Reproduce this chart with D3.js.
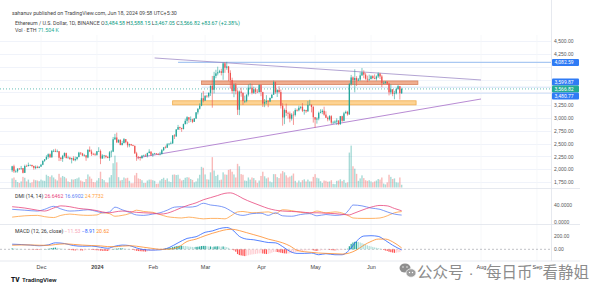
<!DOCTYPE html>
<html><head><meta charset="utf-8">
<script src="https://cdn.jsdelivr.net/npm/d3@7"></script>
<style>
html,body{margin:0;padding:0;background:#fff;}
svg{display:block;font-family:Roboto,"Liberation Sans",sans-serif;}
</style></head><body>
<svg id="chart" width="600" height="294"></svg>
<script>
// ---------------- DATA ----------------
const startDate = "2023-11-15";
const firstOpen = 1980;
const closes = [
2058,1961,1962,2013,2012,2022,1931,2064,2063,2082,2083,2064,2028,2048,2027,2051,
2088,2165,2194,2242,2293,2232,2358,2359,2341,2352,2225,2202,2260,2315,2220,2228,2196,2216,2177,2200,2240,2325,2309,2267,2273,2230,2379,2346,2300,2292,2281,
2352,2355,2209,2268,2268,2240,2221,2331,2344,2585,2620,2525,2576,2472,2511,2587,2529,2468,2490,2470,2455,2310,2241,2235,2218,2265,2268,2258,2317,2344,2284,
2304,2309,2297,2291,2297,2373,2427,2420,2487,2499,2505,2660,2642,2775,2822,2804,2785,2880,2945,3015,2970,2972,2925,2990,3110,3180,3240,3385,3340,
3432,3422,3490,3630,3550,3820,3870,3890,3910,3880,4065,3980,4005,3880,3740,3525,3645,3520,3160,3515,3490,3330,3330,3455,3590,3590,3490,3560,3510,3505,3645,
3505,3280,3310,3330,3320,3390,3455,3700,3500,3545,3505,3240,3010,3155,3100,3085,2985,3065,3060,3155,3150,3200,3220,3140,3155,3130,3255,3260,3215,3015,
2970,2990,3100,3115,3140,3065,3005,2975,3035,2910,2910,2930,2950,2880,3035,2945,3090,3120,3070,3660,3790,3740,3780,3730,3750,3830,3890,3845,3765,3750,3760,
3815,3780,3765,3810,3865,3810,3680,3680,3705,3670,3500,3560,3470,3480,3565,3620,3483,3566.82];
const highs = [
2068,2090,1990,2020,2025,2065,2025,2090,2090,2130,2095,2090,2070,2075,2070,2055,
2105,2170,2200,2275,2310,2310,2375,2390,2400,2385,2355,2240,2280,2330,2325,2265,2245,2225,2255,2250,2245,2340,2330,2320,2300,2275,2390,2445,2385,2320,2320,
2355,2430,2385,2295,2280,2270,2260,2355,2370,2630,2690,2715,2580,2580,2555,2610,2590,2545,2500,2495,2480,2465,2340,2260,2245,2275,2285,2300,2325,2390,2350,
2310,2320,2315,2315,2340,2395,2435,2460,2510,2510,2540,2665,2685,2785,2865,2830,2810,2890,2985,3035,3015,3030,2985,3000,3115,3190,3285,3490,3525,
3445,3450,3500,3630,3820,3900,3940,4000,3940,3960,4085,4090,4095,4015,3930,3785,3675,3680,3550,3535,3590,3500,3435,3460,3655,3675,3665,3610,3590,3560,3655,
3650,3510,3370,3445,3345,3400,3460,3730,3710,3560,3620,3555,3290,3185,3280,3125,3125,3095,3130,3190,3180,3240,3225,3290,3170,3160,3330,3355,3260,3235,
3020,3015,3125,3170,3170,3220,3130,3030,3055,3055,2945,2955,2995,2955,3040,3045,3120,3145,3140,3685,3840,3810,3950,3815,3780,3890,3975,3930,3880,3825,3845,
3835,3835,3850,3830,3890,3880,3840,3715,3720,3715,3680,3655,3560,3530,3590,3645,3625,3588.15];
const lows = [
1945,1930,1930,1935,1990,1990,1920,1930,2050,2055,2075,2040,1990,2000,2020,2020,
2050,2080,2145,2180,2205,2225,2230,2335,2335,2330,2160,2165,2145,2230,2210,2210,2190,2115,2165,2155,2175,2230,2280,2255,2245,2165,2215,2335,2260,2275,2260,
2265,2345,2100,2205,2210,2215,2215,2165,2235,2335,2570,2510,2510,2470,2465,2505,2505,2425,2430,2455,2450,2300,2165,2195,2170,2205,2255,2245,2230,2310,2260,
2240,2290,2285,2275,2270,2290,2355,2405,2420,2465,2485,2495,2590,2630,2765,2765,2730,2775,2875,2880,2905,2920,2900,2925,2980,3070,3165,3230,3305,
3330,3395,3395,3430,3200,3480,3775,3830,3875,3830,3745,3880,3940,3720,3570,3475,3405,3460,3060,3055,3415,3255,3290,3305,3420,3560,3460,3470,3465,3490,3495,
3425,3215,3210,3270,3210,3310,3380,3450,3470,3410,3480,3185,2850,2880,3040,2990,2915,2950,2865,3030,3125,3130,3170,3115,3065,3100,3120,3250,3110,2910,
2810,2890,2955,3090,3075,3045,3000,2935,2950,2880,2885,2895,2865,2860,2865,2925,2935,3090,3045,3060,3630,3655,3500,3625,3725,3725,3820,3775,3745,3700,3725,
3750,3755,3755,3730,3780,3760,3600,3670,3670,3645,3440,3460,3425,3365,3460,3545,3360,3467.05];
const volumes = [ // thousand ETH
300,330,250,180,150,200,350,320,200,260,150,170,260,240,230,210,
260,230,220,420,380,350,400,330,270,230,450,330,380,350,300,200,180,270,260,280,300,330,230,200,180,280,430,360,290,180,170,
230,310,520,280,240,170,160,330,410,800,1050,830,340,230,250,330,300,320,220,140,140,400,480,300,280,240,150,150,230,260,260,
240,220,120,130,230,280,320,250,300,200,180,420,430,410,420,290,230,250,320,340,330,280,250,170,200,300,420,680,650,
430,270,260,500,1000,560,380,420,240,260,500,430,420,580,600,520,430,330,780,700,440,420,230,220,330,260,330,310,240,150,230,
380,520,370,300,330,200,170,440,440,340,310,460,540,500,400,330,360,390,460,220,160,230,170,240,270,200,260,200,200,350,
440,320,300,210,150,230,220,190,200,240,120,110,220,230,270,210,250,150,170,1150,1380,700,620,450,220,300,400,310,240,220,240,
200,170,200,230,280,260,330,130,100,170,420,350,280,300,170,160,330,90];
const macdHist = [
14,12,10,8,6,5,3,1,-1,-2,-3,-4,-5,-6,-7,-8,
-4,-1,2,4,7,12,18,22,25,22,16,10,7,5,0,-4,-8,-12,-15,-17,-16,-15,-16,-17,-15,-12,-6,-4,-7,-9,-12,
-14,-15,-20,-22,-23,-24,-25,-15,-8,4,8,10,12,14,15,12,8,5,3,-2,-8,-15,-22,-26,-28,-30,-32,-34,-30,-26,-24,
-22,-18,-14,-10,-8,-2,5,10,16,20,23,32,38,46,50,52,52,50,48,45,40,38,35,34,36,38,42,48,50,
50,46,42,42,35,40,42,44,42,40,42,38,32,22,5,-5,-15,-35,-70,-85,-90,-95,-100,-95,-88,-80,-76,-72,-68,-64,-60,
-58,-62,-66,-70,-68,-60,-50,-40,-38,-40,-44,-50,-56,-60,-62,-62,-60,-56,-50,-45,-40,-34,-28,-24,-20,-16,-12,-10,-10,-15,
-22,-25,-22,-18,-12,-8,-6,-6,-8,-12,-15,-17,-16,-15,-10,-10,-4,2,8,45,80,100,110,112,110,100,90,80,68,58,50,
42,35,28,22,18,10,0,-10,-18,-24,-36,-42,-48,-52,-50,-45,-42,-11.53];

const indDates = ["2023-11-15","2023-11-22","2023-11-29","2023-12-03","2023-12-08","2023-12-12","2023-12-17","2023-12-22","2023-12-27","2024-01-01","2024-01-04","2024-01-08","2024-01-11","2024-01-15","2024-01-19","2024-01-23","2024-01-27","2024-02-01","2024-02-05","2024-02-09","2024-02-13","2024-02-17","2024-02-21","2024-02-25","2024-02-29","2024-03-04","2024-03-08","2024-03-12","2024-03-15","2024-03-19","2024-03-22","2024-03-27","2024-04-01","2024-04-05","2024-04-09","2024-04-13","2024-04-18","2024-04-23","2024-04-28","2024-05-02","2024-05-07","2024-05-12","2024-05-17","2024-05-20","2024-05-22","2024-05-27","2024-06-01","2024-06-06","2024-06-10","2024-06-14","2024-06-18"];
const adx =     [36,33,28,26,33,38,36,32,30,27,24,22,24,26,25,23,22,21,19,21,27,34,40,45,52,57,62,67,68,62,55,46,38,32,28,26,25,24,22,22,21,20,18,17,20,28,35,39,38,32,26.65];
const plusDI =  [30,28,26,30,37,31,26,27,29,25,22,24,35,29,23,17,16,19,22,28,35,36,35,37,44,40,38,34,27,18,16,20,21,16,22,15,14,18,20,15,18,16,18,30,40,38,33,30,24,19,16.69];
const minusDI = [12,15,16,13,11,16,19,17,16,17,22,20,14,16,20,28,25,23,18,13,11,10,12,10,8,9,9,8,14,24,25,22,23,24,20,29,27,23,21,26,22,24,20,14,10,9,9,10,15,22,24.77];

const macdDates = ["2023-11-15","2023-11-20","2023-11-25","2023-11-30","2023-12-05","2023-12-09","2023-12-14","2023-12-19","2023-12-24","2023-12-29","2024-01-03","2024-01-07","2024-01-11","2024-01-15","2024-01-19","2024-01-23","2024-01-27","2024-02-01","2024-02-05","2024-02-10","2024-02-15","2024-02-20","2024-02-25","2024-03-01","2024-03-05","2024-03-09","2024-03-13","2024-03-16","2024-03-20","2024-03-24","2024-03-28","2024-04-01","2024-04-05","2024-04-09","2024-04-13","2024-04-17","2024-04-21","2024-04-25","2024-04-29","2024-05-03","2024-05-07","2024-05-12","2024-05-16","2024-05-20","2024-05-24","2024-05-28","2024-06-01","2024-06-05","2024-06-09","2024-06-13","2024-06-18"];
const macdLine =   [75,70,62,52,65,95,85,55,45,48,30,15,45,62,55,20,-5,-12,-8,25,95,160,185,250,270,305,320,290,190,150,140,120,100,95,40,-30,-60,-60,-55,-80,-65,-80,-80,-10,120,195,200,190,130,60,-8.91];
const signalLine = [60,64,64,60,58,70,80,72,62,55,50,40,38,47,52,45,30,12,0,2,30,115,150,200,235,265,290,295,275,245,215,185,150,125,95,50,-15,-35,-45,-55,-60,-65,-70,-55,-10,60,115,150,150,110,20.62];

const priceTicks = [1750,2000,2250,2500,2750,3000,3250,3500,3750,4000,4250,4500];
const timeTickDates = ["2023-12-01","2024-01-01","2024-02-01","2024-03-01","2024-04-01","2024-05-01","2024-06-01","2024-08-01","2024-09-01"];
const timeTickLabels = ["Dec","2024","Feb","Mar","Apr","May","Jun","Aug","Sep"];

const upperTrend = [["2024-02-02",4170],["2024-08-01",3741]];
const lowerTrend = [["2024-01-23",2220],["2024-08-01",3370]];
const resistanceZone = ["2024-02-28","2024-06-27",3652,3722];
const supportZone = ["2024-02-12","2024-06-26",3255,3335];
const athLine = ["2024-02-15",4082.59];
const rayLines = [["2024-02-28",3599.87],["2024-02-28",3480.77]];
const lastPrice = 3566.82;
const axisLabels = [[4082.59,"#2f7bf5"],[3599.87,"#2f7bf5"],[3566.82,"#22ab94"],[3480.77,"#2f7bf5"]];
const watermarkParts = ["公众号","·","每日币","看静姐"];

// ---------------- SCALES ----------------
const svg = d3.select("#chart");
const parse = d3.utcParse("%Y-%m-%d");
const plotR = 551, axisR = 580;
const x = d3.scaleUtc().domain([parse("2023-12-01"), parse("2024-06-01")]).range([41,371]);
const yP = d3.scaleLinear().domain([1750,4500]).range([182.1,41.05]);
const yV = d3.scaleLinear().domain([0,1400]).range([187.5,145]);
const yD = d3.scaleLinear().domain([0,40]).range([222.3,205]);
const yM = d3.scaleLinear().domain([0,200]).range([249.3,235.7]);
const paneMain=[0,188], paneDmi=[188.5,224.5], paneMacd=[224.5,261];

const t0 = parse(startDate);
const candles = closes.map((c,i)=>({
  date: d3.utcDay.offset(t0,i),
  o: i===0?firstOpen:closes[i-1], h: highs[i], l: lows[i], c: c, v: volumes[i], hist: macdHist[i]
}));
const UP="#26a69a", DN="#ef5350";

const defs = svg.append("defs");
[["cMain",paneMain],["cDmi",paneDmi],["cMacd",paneMacd]].forEach(([id,p])=>{
  defs.append("clipPath").attr("id",id).append("rect").attr("x",0).attr("y",p[0]).attr("width",plotR).attr("height",p[1]-p[0]);
});

const grid = svg.append("g");
grid.selectAll("line.h").data(priceTicks).join("line")
  .attr("x1",0).attr("x2",plotR).attr("y1",d=>Math.round(yP(d))+0.5).attr("y2",d=>Math.round(yP(d))+0.5)
  .attr("stroke","#f0f3fa").attr("stroke-width",1);
grid.selectAll("line.v").data(timeTickDates).join("line")
  .attr("x1",d=>x(parse(d))).attr("x2",d=>x(parse(d))).attr("y1",35).attr("y2",261)
  .attr("stroke","#f5f6f9").attr("stroke-width",0.8);

const sep = svg.append("g").attr("stroke","#e0e3eb").attr("stroke-width",0.8);
[188.5,224.5,261].forEach(y=>sep.append("line").attr("x1",0).attr("x2",axisR).attr("y1",y).attr("y2",y));
sep.append("line").attr("x1",plotR+0.5).attr("x2",plotR+0.5).attr("y1",0).attr("y2",261);

// ---- main pane ----
const main = svg.append("g").attr("clip-path","url(#cMain)");
main.append("g").selectAll("rect").data(candles).join("rect")
  .attr("x",d=>x(d.date)-0.7).attr("width",1.4)
  .attr("y",d=>yV(d.v)).attr("height",d=>yV(0)-yV(d.v))
  .attr("fill",d=>d.c>=d.o?UP:DN).attr("opacity",0.4);

function zone(z, fill, stroke){
  main.append("rect").attr("x",x(parse(z[0]))).attr("width",x(parse(z[1]))-x(parse(z[0])))
    .attr("y",yP(z[3])).attr("height",yP(z[2])-yP(z[3]))
    .attr("fill",fill).attr("stroke",stroke).attr("stroke-width",0.8);
}
zone(resistanceZone,"rgba(234,145,105,0.75)","#d9825f");
zone(supportZone,"rgba(252,200,120,0.8)","#f0ad4e");

main.append("line").attr("x1",x(parse(athLine[0]))).attr("x2",plotR)
  .attr("y1",yP(athLine[1])).attr("y2",yP(athLine[1])).attr("stroke","#a9c8f2").attr("stroke-width",1.2);
rayLines.forEach(r=>main.append("line").attr("x1",x(parse(r[0]))).attr("x2",plotR)
  .attr("y1",yP(r[1])).attr("y2",yP(r[1])).attr("stroke","#c9dcf5").attr("stroke-width",0.8));
main.append("line").attr("x1",0).attr("x2",plotR).attr("y1",yP(lastPrice)).attr("y2",yP(lastPrice))
  .attr("stroke","#26a69a").attr("stroke-width",0.7).attr("stroke-dasharray","1,2");

[[upperTrend,"#9a86c4"],[lowerTrend,"#a064c4"]].forEach(([t,col])=>{
  main.append("line").attr("x1",x(parse(t[0][0]))).attr("y1",yP(t[0][1]))
    .attr("x2",x(parse(t[1][0]))).attr("y2",yP(t[1][1]))
    .attr("stroke",col).attr("stroke-width",0.75);
});

const cg = main.append("g");
cg.selectAll("line").data(candles).join("line")
  .attr("x1",d=>x(d.date)).attr("x2",d=>x(d.date)).attr("y1",d=>yP(d.h)).attr("y2",d=>yP(d.l))
  .attr("stroke",d=>d.c>=d.o?UP:DN).attr("stroke-width",0.6);
cg.selectAll("rect").data(candles).join("rect")
  .attr("x",d=>x(d.date)-0.65).attr("width",1.3)
  .attr("y",d=>yP(Math.max(d.o,d.c))).attr("height",d=>Math.max(0.6,Math.abs(yP(d.o)-yP(d.c))))
  .attr("fill",d=>d.c>=d.o?UP:DN);

// ---- DMI pane ----
const dmi = svg.append("g").attr("clip-path","url(#cDmi)");
const idx = indDates.map(parse);
function drawLine(g, dates, vals, y, color){
  g.append("path").datum(vals.map((v,i)=>[dates[i],v]))
    .attr("d",d3.line().x(d=>x(d[0])).y(d=>y(d[1])).curve(d3.curveMonotoneX))
    .attr("fill","none").attr("stroke",color).attr("stroke-width",0.8);
}
drawLine(dmi, idx, minusDI, yD, "#ff9f40");
drawLine(dmi, idx, plusDI, yD, "#5b7ff5");
drawLine(dmi, idx, adx, yD, "#e8467c");

// ---- MACD pane ----
const mac = svg.append("g").attr("clip-path","url(#cMacd)");
mac.append("line").attr("x1",0).attr("x2",plotR).attr("y1",yM(0)).attr("y2",yM(0))
  .attr("stroke","#9598a1").attr("stroke-width",0.6).attr("stroke-dasharray","2,2");
mac.append("g").selectAll("rect").data(candles).join("rect")
  .attr("x",d=>x(d.date)-0.6).attr("width",1.2)
  .attr("y",d=>Math.min(yM(0),yM(d.hist))).attr("height",d=>Math.abs(yM(d.hist)-yM(0)))
  .attr("fill",(d,i)=>{
    const prev = i>0?candles[i-1].hist:d.hist;
    if(d.hist>=0) return d.hist>=prev?"#26a69a":"#b2dfdb";
    return d.hist<prev?"#ff5252":"#ffcdd2";
  });
const mdx = macdDates.map(parse);
drawLine(mac, mdx, macdLine, yM, "#2962ff");
drawLine(mac, mdx, signalLine, yM, "#ff8c2a");

// ---- price label boxes: positions pushed apart around the last price ----
const cur = yP(lastPrice);
const lbl = axisLabels.map(([p,c])=>({p,c,y:yP(p)}));
lbl.forEach(l=>{
  if(l.p===lastPrice) return;
  if(Math.abs(l.y-cur)<7) l.y = l.p>lastPrice? cur-7 : cur+7;
});

// price axis (tick labels hidden where a price box covers them)
const visibleTicks = priceTicks.filter(t=>lbl.every(b=>Math.abs(yP(t)-b.y)>6.5));
const pAxis = svg.append("g").attr("transform",`translate(${plotR},0)`)
  .call(d3.axisRight(yP).tickValues(visibleTicks).tickSize(0).tickPadding(3).tickFormat(d3.format(",.2f")));
pAxis.select(".domain").remove();
pAxis.selectAll("text").attr("font-size",5).attr("fill","#555");

const lg = svg.append("g");
lbl.forEach(l=>{
  lg.append("rect").attr("x",plotR+1).attr("y",l.y-3.5).attr("width",27).attr("height",7).attr("rx",1).attr("fill",l.c);
  lg.append("text").attr("x",plotR+3.5).attr("y",l.y+1.8).attr("font-size",5).attr("fill","#fff").text(d3.format(",.2f")(l.p));
});

const dAxis = svg.append("g").attr("transform",`translate(${plotR},0)`)
  .call(d3.axisRight(yD).tickValues([0,40]).tickSize(0).tickPadding(3).tickFormat(d3.format(".4f")));
const mAxis = svg.append("g").attr("transform",`translate(${plotR},0)`)
  .call(d3.axisRight(yM).tickValues([0,200]).tickSize(0).tickPadding(3).tickFormat(d3.format(".2f")));
[dAxis,mAxis].forEach(a=>{a.select(".domain").remove();a.selectAll("text").attr("font-size",5).attr("fill","#555");});

const tAxis = svg.append("g").attr("transform","translate(0,262)")
  .call(d3.axisBottom(x).tickValues(timeTickDates.map(parse)).tickSize(0).tickPadding(3)
    .tickFormat((d,i)=>timeTickLabels[i]));
tAxis.select(".domain").remove();
tAxis.selectAll("text").attr("font-size",5.5).attr("fill","#444")
  .attr("font-weight",(d,i)=>timeTickLabels[i]==="2024"?"bold":"normal");

// ---- header texts ----
const hdr = svg.append("g").attr("font-size",5.3).attr("fill","#444");
hdr.append("text").attr("x",12).attr("y",15).text("sahanuv published on TradingView.com, Jun 18, 2024 09:58 UTC+5:30");
const l2 = hdr.append("text").attr("x",15).attr("y",25);
l2.append("tspan").text("Ethereum / U.S. Dollar, 1D, BINANCE  ");
[["O","3,484.58"],["H","3,588.15"],["L","3,467.05"],["C","3,566.82"]].forEach(([k,v])=>{
  l2.append("tspan").text(" "+k); l2.append("tspan").attr("fill","#089981").text(v);
});
l2.append("tspan").attr("fill","#089981").text("  +83.67 (+2.38%)");
const l3 = hdr.append("text").attr("x",15).attr("y",32);
l3.append("tspan").text("Vol · ETH  ");
l3.append("tspan").attr("fill","#22ab94").text("71.504 K");

const dl = svg.append("text").attr("x",15).attr("y",198).attr("font-size",5.2).attr("fill","#333");
dl.append("tspan").text("DMI (14, 14)  ");
dl.append("tspan").attr("fill","#e8467c").text("26.6462  ");
dl.append("tspan").attr("fill","#5b7ff5").text("16.6902  ");
dl.append("tspan").attr("fill","#ff9f40").text("24.7732");
const ml = svg.append("text").attr("x",15).attr("y",233).attr("font-size",5.2).attr("fill","#333");
ml.append("tspan").text("MACD (12, 26, close)  ");
ml.append("tspan").attr("fill","#f7a8b8").text("−11.53  ");
ml.append("tspan").attr("fill","#2962ff").text("−8.91  ");
ml.append("tspan").attr("fill","#ff8c2a").text("20.62");

// TradingView logo
const logo = svg.append("g");
logo.append("text").attr("x",11).attr("y",282).attr("font-size",6.5).attr("font-weight","900").attr("fill","#131722").text("TV");
logo.append("text").attr("x",22).attr("y",282).attr("font-size",6.2).attr("font-weight","600").attr("fill","#131722").text("TradingView");

// watermark
const wm = svg.append("g");
wm.append("ellipse").attr("cx",405).attr("cy",268).attr("rx",5.5).attr("ry",4.6).attr("fill","#8e8e8e");
wm.append("ellipse").attr("cx",411).attr("cy",273).attr("rx",5).attr("ry",4.2).attr("fill","#9e9e9e").attr("stroke","#fff").attr("stroke-width",0.7);
[[403,267],[407,267],[409.5,272.5],[412.5,272.5]].forEach(([cx,cy])=>wm.append("circle").attr("cx",cx).attr("cy",cy).attr("r",0.7).attr("fill","#fff"));
const wmX = [417, 468.5, 486, 542.5];
watermarkParts.forEach((t,i)=>{
  wm.append("text").attr("x",wmX[i]).attr("y",278).attr("font-size",15.5)
    .attr("font-family", i===1 ? "'Liberation Sans',sans-serif" : "'Noto Sans CJK SC',sans-serif")
    .attr("fill","#8c8c8c")
    .attr("stroke","#ffffff").attr("stroke-width",0.6).attr("paint-order","stroke")
    .text(t);
});
</script>
</body></html>
